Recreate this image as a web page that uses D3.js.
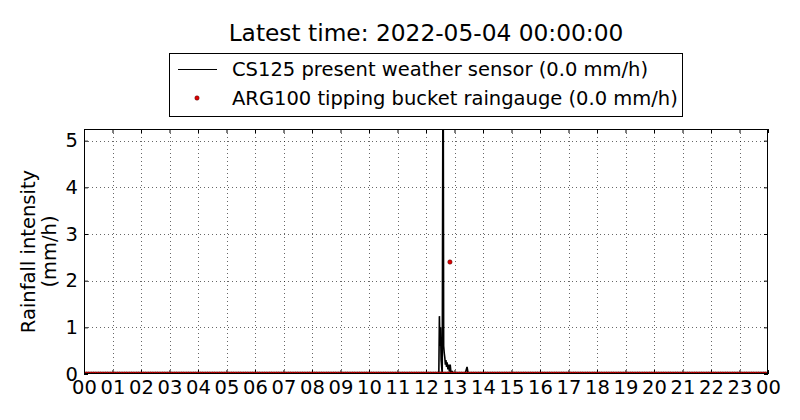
<!DOCTYPE html>
<html><head><meta charset="utf-8">
<script src="https://cdn.jsdelivr.net/npm/d3@7"></script>
<style>body{margin:0;background:#fff;} svg{display:block;font-family:"DejaVu Sans",sans-serif;}</style>
</head><body>
<svg id="c" width="800" height="420"></svg>
<script>
const titleText = "Latest time: 2022-05-04 00:00:00";
const seriesNames = ["CS125 present weather sensor (0.0 mm/h)", "ARG100 tipping bucket raingauge (0.0 mm/h)"];
const xTickLabels = ["00","01","02","03","04","05","06","07","08","09","10","11","12","13","14","15","16","17","18","19","20","21","22","23","00"];
const yTicks = [0,1,2,3,4,5];
// CS125 (hours of day, mm/h)
const cs125Hours = [0, 12.40, 12.45, 12.47, 12.49, 12.51, 12.53, 12.57, 12.60, 12.62, 12.64, 12.66, 12.68, 12.70, 12.72, 12.74, 12.77, 12.80, 12.82, 12.85, 12.88, 12.92, 13.00, 13.05, 13.37, 13.44, 13.48, 24];
const cs125Values = [0, 0, 0, 1.24, 0.6, 1.0, 0.3, 0.0, 8.0, 0.6, 0.45, 0.35, 0.2, 0.3, 0.15, 0.25, 0.1, 0.2, 0.05, 0.2, 0.0, 0.05, 0.0, 0.0, 0.0, 0.15, 0.0, 0];
// ARG100 samples: every 5 minutes, all zero except one tip
const arg100Hours = d3.range(0, 24, 5/60);
const arg100Tip = {hour: 12.84, value: 2.4};

const FS = "19.5px";
const svg = d3.select("#c");
const L = 84, R = 768, T = 129, B = 374;
const x = d3.scaleLinear().domain([0, 24]).range([L, R]);
const y = d3.scaleLinear().domain([0, 5.25]).range([B, T]);

svg.append("defs").append("clipPath").attr("id","clip")
  .append("rect").attr("x",L).attr("y",T).attr("width",R-L).attr("height",B-T);

// grid
const xt = d3.range(0, 25, 1);
svg.append("g").selectAll("line").data(xt.slice(1,-1)).join("line")
  .attr("x1",d=>Math.round(x(d))+0.5).attr("x2",d=>Math.round(x(d))+0.5).attr("y1",T).attr("y2",B)
  .attr("stroke","#000").attr("stroke-width",0.6).attr("stroke-dasharray","1,3");
svg.append("g").selectAll("line").data(yTicks.slice(1)).join("line")
  .attr("y1",d=>Math.round(y(d))+0.5).attr("y2",d=>Math.round(y(d))+0.5).attr("x1",L).attr("x2",R)
  .attr("stroke","#000").attr("stroke-width",0.6).attr("stroke-dasharray","1,3");

// axes
const xAxis = d3.axisBottom(x).tickValues(xt).tickFormat((d,i)=>xTickLabels[i]).tickSizeInner(-4).tickSizeOuter(0).tickPadding(6);
const gx = svg.append("g").attr("transform",`translate(0,${B})`).call(xAxis);
gx.select(".domain").remove();
gx.selectAll("text").attr("font-size",FS).attr("fill","#000").attr("font-family","DejaVu Sans");
const gxt = svg.append("g").attr("transform",`translate(0,${T})`).call(d3.axisTop(x).tickValues(xt).tickFormat("").tickSizeInner(-4).tickSizeOuter(0));
gxt.select(".domain").remove();
const yAxis = d3.axisLeft(y).tickValues(yTicks).tickFormat(d3.format("d")).tickSizeInner(-4).tickSizeOuter(0).tickPadding(6);
const gy = svg.append("g").attr("transform",`translate(${L},0)`).call(yAxis);
gy.select(".domain").remove();
gy.selectAll("text").attr("font-size",FS).attr("fill","#000").attr("font-family","DejaVu Sans");
const gyr = svg.append("g").attr("transform",`translate(${R},0)`).call(d3.axisRight(y).tickValues(yTicks).tickFormat("").tickSizeInner(-4).tickSizeOuter(0));
gyr.select(".domain").remove();

// data
const plot = svg.append("g").attr("clip-path","url(#clip)");
const lineData = cs125Hours.map((h,i)=>[h, cs125Values[i]]);
plot.append("path").datum(lineData)
  .attr("d", d3.line().x(d=>x(d[0])).y(d=>y(d[1])))
  .attr("fill","none").attr("stroke","#000").attr("stroke-width",1.6);
const dots = arg100Hours.map(h=>[h,0]).concat([[arg100Tip.hour, arg100Tip.value]]);
plot.append("g").selectAll("circle").data(dots).join("circle")
  .attr("cx",d=>x(d[0])).attr("cy",d=>y(d[1])).attr("r",2.2)
  .attr("fill","#e00000").attr("stroke","#400").attr("stroke-width",0.5);

// frame
svg.append("rect").attr("x",L+0.5).attr("y",T+0.5).attr("width",R-L-1).attr("height",B-T-1)
  .attr("fill","none").attr("stroke","#000").attr("stroke-width",1);

// title
svg.append("text").attr("x",(L+R)/2).attr("y",41).attr("text-anchor","middle")
  .attr("font-size","23.3px").attr("fill","#000").text(titleText);

// y label
const yl = svg.append("text").attr("transform",`translate(34.5,${(T+B)/2}) rotate(-90)`)
  .attr("text-anchor","middle").attr("font-size",FS).attr("fill","#000");
yl.append("tspan").attr("x",0).attr("y",0).text("Rainfall intensity");
yl.append("tspan").attr("x",0).attr("y",21.5).text("(mm/h)");

// legend
const lg = svg.append("g");
lg.append("rect").attr("x",169.5).attr("y",53.5).attr("width",513).attr("height",63)
  .attr("fill","#fff").attr("stroke","#000").attr("stroke-width",1);
lg.append("line").attr("x1",178).attr("x2",217).attr("y1",69.5).attr("y2",69.5).attr("stroke","#000").attr("stroke-width",1.2);
lg.append("circle").attr("cx",197).attr("cy",98).attr("r",2.2).attr("fill","#e00000").attr("stroke","#400").attr("stroke-width",0.5);
lg.append("text").attr("x",232).attr("y",76).attr("font-size",FS).attr("fill","#000").text(seriesNames[0]);
lg.append("text").attr("x",232).attr("y",105).attr("font-size",FS).attr("fill","#000").text(seriesNames[1]);
</script>
</body></html>
